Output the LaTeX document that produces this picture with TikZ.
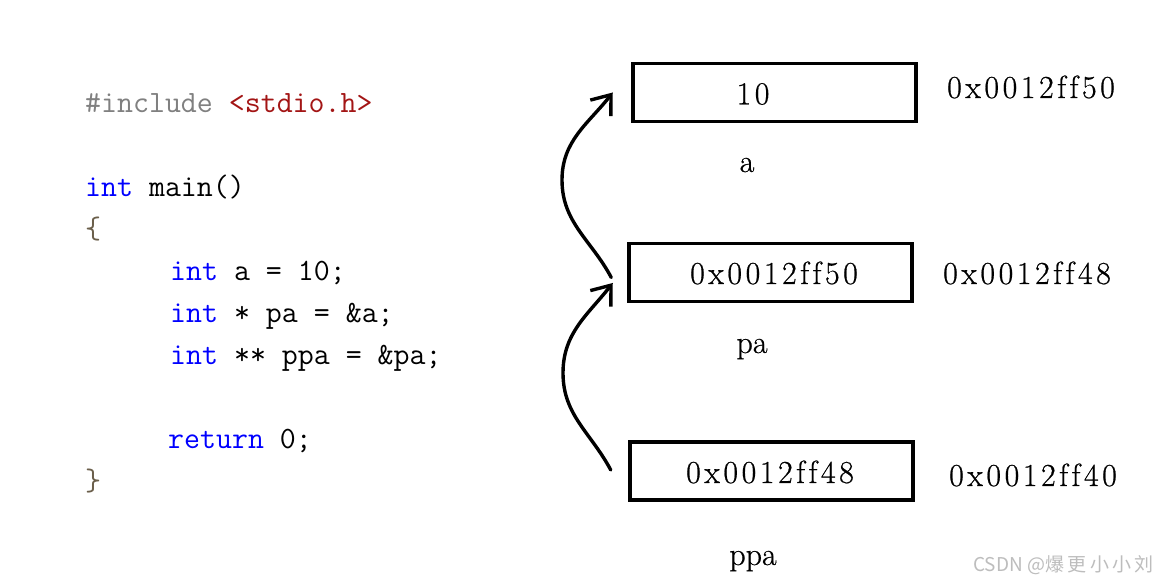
\documentclass[tikz,border=0pt]{standalone}
\usepackage{fontspec}
\newfontfamily\cjk{Noto Sans CJK SC}
\newfontfamily\cjkwide{Noto Sans CJK SC}[LetterSpace=18]
\newfontfamily\addrfont{Latin Modern Roman}[Ligatures=NoCommon,LetterSpace=11,FakeBold=0.6]
\newfontfamily\namefont{Latin Modern Roman}[FakeBold=0.6]
\usetikzlibrary{arrows.meta,calc}
\definecolor{kwblue}{HTML}{0000FF}
\definecolor{ppgray}{HTML}{808080}
\definecolor{incred}{HTML}{A31515}
\definecolor{bracec}{HTML}{6B5F4B}
\definecolor{wmgray}{HTML}{BDBDBD}
\begin{document}
\begin{tikzpicture}[x=1pt,y=1pt,
  code/.style={anchor=base west, inner sep=0pt, font=\fontsize{31}{36}\selectfont\ttfamily},
  box/.style={draw, line width=3.5pt, minimum width=283pt, minimum height=58pt, inner sep=0pt},
  val/.style={inner sep=0pt, font=\addrfont\fontsize{32}{38}\selectfont},
  vname/.style={anchor=base, inner sep=0pt, font=\namefont\fontsize{32}{38}\selectfont},
  arr/.style={line width=3.4pt, line cap=round, -{Straight Barb[length=17pt,width=26pt]}}]
\useasboundingbox (0,0) rectangle (1172,586);
\fill[white] (0,0) rectangle (1172,586);

% code
\node[code] (l1) at (85,473) {\textcolor{ppgray}{\#include} \textcolor{incred}{<stdio.h>}};
\node[code] (l2) at (85,389) {\textcolor{kwblue}{int} main()};
\node[code] (l3) at (85,347) {\textcolor{bracec}{\{}};
\node[code] (l4) at (170,305) {\textcolor{kwblue}{int} a = 10;};
\node[code] (l5) at (170,263) {\textcolor{kwblue}{int} * pa = \&a;};
\node[code] (l6) at (170,221) {\textcolor{kwblue}{int} ** ppa = \&pa;};
\node[code] (l7) at (168,137) {\textcolor{kwblue}{return} 0;};
\node[code] (l8) at (85,95) {\textcolor{bracec}{\}}};

% boxes
\node[box] (a) at (774.5,493.5) {};
\node[box] (pa) at (770.5,313.5) {};
\node[box] (ppa) at (771.5,115) {};

% values
\node[val] (va) at (753,492) {10};
\node[val] (vpa) at (774,313) {0x0012ff50};
\node[val] (vppa) at (770,114) {0x0012ff48};

% addresses
\node[val] (ada) at (1031,499) {0x0012ff50};
\node[val] (adpa) at (1027,313) {0x0012ff48};
\node[val] (adppa) at (1033,111) {0x0012ff40};

% names
\node[vname] (na) at (747,414) {a};
\node[vname] (npa) at (752,233) {pa};
\node[vname] (nppa) at (753,21) {ppa};

% arrows
\coordinate (m1) at (562,406);
\coordinate (m2) at (563,213);
\draw[arr] ($(pa.west)+(-16,-5)$) to[out=118,in=-90] (m1) to[out=90,in=232] ($(a.west)+(-18.5,0)$);
\draw[arr] ($(ppa.west)+(-17.5,1)$) to[out=118,in=-90] (m2) to[out=90,in=232] ($(pa.west)+(-14.5,-10.5)$);

% watermark
\node[anchor=west, inner sep=0pt, text=wmgray, font=\cjk\fontsize{19}{22}\selectfont] (wm) at (973,21) {CSDN @{\cjkwide 爆更小小刘}};
\end{tikzpicture}
\end{document}
